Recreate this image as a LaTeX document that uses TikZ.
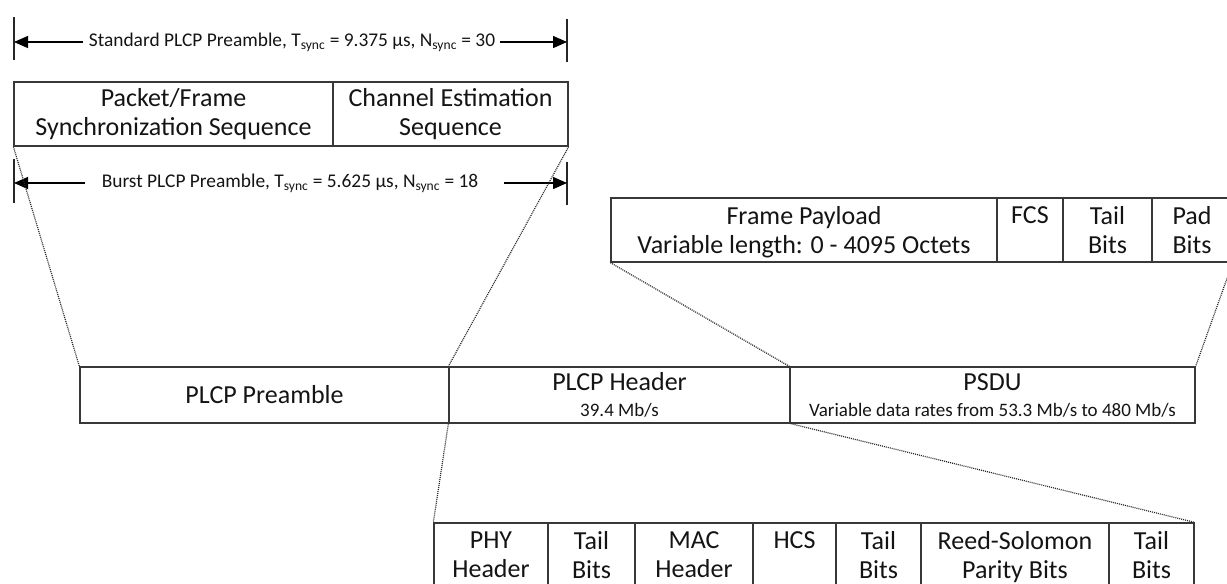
\documentclass[tikz,border=0pt]{standalone}
\usepackage{fontspec}
\setmainfont{Carlito}
\usetikzlibrary{arrows.meta}
\newcommand\nodepth[1]{\raisebox{0pt}[\height][0pt]{#1}}
\begin{document}
\begin{tikzpicture}[x=1pt,y=-1pt,
  cell/.style={draw=black!78, line width=1.3pt, minimum height=64pt, inner sep=0pt,
    align=center, font=\fontsize{26}{29}\selectfont, text=black!92},
  midcell/.style={cell, minimum height=56pt},
  lab/.style={inner sep=0pt, font=\fontsize{19.4}{22}\selectfont, text=black!92},
  conn/.style={draw=black!85, line width=1.2pt, dash pattern=on 1pt off 1pt},
  arr/.style={draw=black, line width=1.4pt, -{Triangle[length=14pt,width=12pt]}},
  tickline/.style={draw=black!85, line width=1.6pt}]
\useasboundingbox (0,0) rectangle (1227,584);
\clip (0,0) rectangle (1227,584);

% top preamble box
\node[cell, minimum width=319pt] (sync) at (173.5,114) {Packet/Frame\\Synchronization Sequence};
\node[cell, minimum width=235pt] (chan) at (450.5,114) {Channel Estimation\\Sequence};

% standard arrow
\coordinate (sa1) at (14,17); \coordinate (sa2) at (14,60);
\coordinate (sb1) at (567,19); \coordinate (sb2) at (567,62);
\draw[tickline] (sa1) -- (sa2);
\draw[tickline] (sb1) -- (sb2);
\node[lab] (std) at (292,42) {Standard PLCP Preamble, T\textsubscript{sync} = 9.375 µs, N\textsubscript{sync} = 30};
\coordinate (sl) at (83,42); \coordinate (sr) at (500,42);
\coordinate (slt) at (14,42); \coordinate (srt) at (567,42);
\draw[arr] (sl) -- (slt);
\draw[arr] (sr) -- (srt);

% burst arrow
\coordinate (ba1) at (14,159); \coordinate (ba2) at (14,203);
\coordinate (bb1) at (567,162); \coordinate (bb2) at (567,205);
\draw[tickline] (ba1) -- (ba2);
\draw[tickline] (bb1) -- (bb2);
\node[lab] (bst) at (290,183) {Burst PLCP Preamble, T\textsubscript{sync} = 5.625 µs, N\textsubscript{sync} = 18};
\coordinate (bl) at (85,183); \coordinate (br) at (504,183);
\coordinate (blt) at (14,183); \coordinate (brt) at (567,183);
\draw[arr] (bl) -- (blt);
\draw[arr] (br) -- (brt);

% frame payload row
\node[cell, minimum width=386pt] (pay) at (804,230) {Frame Payload\\\nodepth{Variable length: 0 - 4095 Octets}};
\node[cell, minimum width=66pt] (fcs) at (1030,230) {FCS\\\vphantom{Bits}};
\node[cell, minimum width=89pt] (tail) at (1107.5,230) {Tail\\Bits};
\node[cell, minimum width=80pt] (pad) at (1192,230) {Pad\\Bits};

% middle row
\node[midcell, minimum width=369pt] (pre) at (264.5,395) {PLCP Preamble};
\node[midcell, minimum width=341pt] (hdr) at (619.5,395) {PLCP Header\\[-3pt]{\fontsize{19}{21}\selectfont 39.4 Mb/s}};
\node[midcell, minimum width=405pt] (psdu) at (992.5,395) {PSDU\\[-3pt]{\fontsize{19}{21}\selectfont Variable data rates from 53.3 Mb/s to 480 Mb/s}};

% bottom row
\node[cell, minimum width=114pt] (phy) at (491,555) {PHY\\Header};
\node[cell, minimum width=87pt] (tb1) at (591.5,555) {Tail\\Bits};
\node[cell, minimum width=118pt] (mac) at (694,555) {MAC\\Header};
\node[cell, minimum width=83pt] (hcs) at (794.5,555) {HCS\\\vphantom{Bits}};
\node[cell, minimum width=85pt] (tb2) at (878.5,555) {Tail\\Bits};
\node[cell, minimum width=188pt] (rs) at (1015,555) {Reed-Solomon\\\nodepth{Parity Bits}};
\node[cell, minimum width=85pt] (tb3) at (1151.5,555) {Tail\\Bits};

% dotted expansion lines
\draw[conn] (sync.south west) -- (pre.north west);
\draw[conn] (chan.south east) -- (hdr.north west);
\draw[conn] (pay.south west) -- (psdu.north west);
\draw[conn] (pad.south east) -- (psdu.north east);
\draw[conn] (hdr.south west) -- (phy.north west);
\draw[conn] (hdr.south east) -- (tb3.north east);
\end{tikzpicture}
\end{document}
